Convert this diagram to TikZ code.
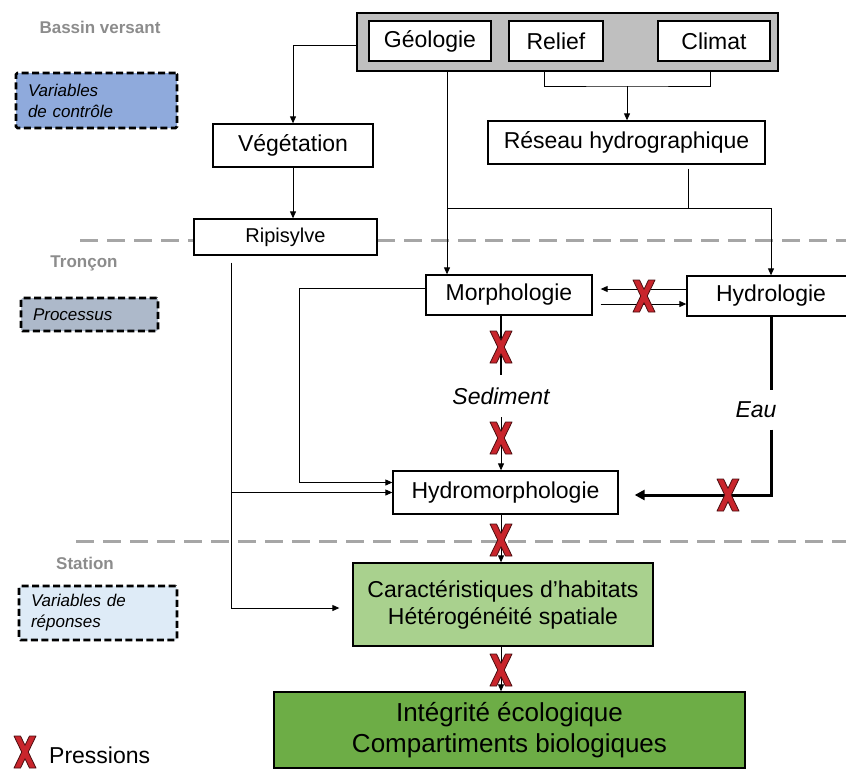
\documentclass[tikz,border=0pt]{standalone}
\usepackage{fontspec}
\setmainfont{Liberation Sans}
\usetikzlibrary{arrows.meta}

\definecolor{grisgroupe}{HTML}{BFBFBF}
\definecolor{grisechelle}{HTML}{8C8C8C}
\definecolor{grispointille}{HTML}{A6A6A6}
\definecolor{bleucontrole}{HTML}{8FAADC}
\definecolor{bleuprocessus}{HTML}{ADB9CA}
\definecolor{bleureponse}{HTML}{DEEBF7}
\definecolor{verthabitat}{HTML}{A9D18E}
\definecolor{vertintegrite}{HTML}{6DAD46}
\definecolor{rougepression}{HTML}{C9252C}
\definecolor{bordpression}{HTML}{4A0E10}

\tikzset{
  boite/.style={draw=black, line width=1.3pt, fill=white, inner sep=0pt, font=\fontsize{23}{27}\selectfont},
  legende/.style={draw=black, line width=2.8pt, dash pattern=on 7pt off 3.5pt, rounded corners=1.5pt, inner xsep=12pt, inner ysep=0pt, align=left, font=\fontsize{17}{21}\selectfont\itshape},
  echelle/.style={anchor=base, text=grisechelle, font=\fontsize{17}{20}\selectfont\bfseries},
  flux/.style={inner sep=0pt, font=\fontsize{23}{27}\selectfont\itshape},
  trait/.style={line width=0.9pt},
  lien/.style={trait, -{Triangle[length=7pt,width=6pt]}},
  fort/.style={line width=3pt},
  separation/.style={grispointille, line width=3pt, dash pattern=on 18pt off 9pt},
  pics/pression/.style={code={
    \filldraw[fill=rougepression, draw=bordpression, line width=0.8pt, line join=round]
      (-11,-16) -- (-4.5,-16) -- (0,-6.7) -- (4.5,-16) -- (11,-16) -- (3.25,0)
      -- (11,16) -- (4.5,16) -- (0,6.7) -- (-4.5,16) -- (-11,16) -- (-3.25,0) -- cycle;
  }}
}

\begin{document}
\begin{tikzpicture}[x=1pt, y=-1pt]
\useasboundingbox (0,0) rectangle (846,769);

% limites d'echelle
\draw[separation] (80,240) -- (846,240);
\draw[separation] (76,541) -- (846,541);

\node[echelle] (bassin) at (100,33) {Bassin versant};
\node[echelle] (troncon) at (84,267) {Tronçon};
\node[echelle] (station) at (85,569) {Station};

\node[legende, fill=bleucontrole, minimum height=55pt, text width=137pt] (controle) at (96.5,100.5) {Variables\\de contrôle};
\node[legende, fill=bleuprocessus, minimum height=33pt, text width=113pt] (processus) at (89.5,314.5) {Processus};
\node[legende, fill=bleureponse, minimum height=54pt, text width=134pt] (reponses) at (98,613) {Variables de\\réponses};

% bassin versant
\node[boite, fill=grisgroupe, line width=2pt, minimum width=421pt, minimum height=58pt] (groupe) at (567.5,42) {};
\node[boite, minimum width=122pt, minimum height=40pt] (geologie) at (430,41) {Géologie};
\node[boite, minimum width=94pt, minimum height=40pt] (relief) at (556,41) {Relief};
\node[boite, minimum width=112pt, minimum height=40pt] (climat) at (714,41) {Climat};
\node[boite, minimum width=160pt, minimum height=43pt] (vegetation) at (293,145.5) {Végétation};
\node[boite, minimum width=277pt, minimum height=43pt] (reseau) at (626.5,142.5) {Réseau hydrographique};
\node[boite, font=\fontsize{20}{24}\selectfont, minimum width=183pt, minimum height=36pt] (ripisylve) at (285.5,237) {Ripisylve};

% troncon
\node[boite, minimum width=166pt, minimum height=40pt] (morphologie) at (509,295) {Morphologie};
\node[boite, minimum width=168pt, minimum height=40pt] (hydrologie) at (771,296) {Hydrologie};
\node[boite, minimum width=225pt, minimum height=43pt] (hydromorphologie) at (505.5,492.5) {Hydromorphologie};
\node[flux, minimum height=42pt] (sediment) at (501,396) {Sediment};
\node[flux, minimum height=39pt] (eau) at (756,410) {Eau};

% station
\node[boite, fill=verthabitat, minimum width=300pt, minimum height=83pt, align=center] (habitats) at (503,604.5) {Caractéristiques d’habitats\\Hétérogénéité spatiale};
\node[boite, fill=vertintegrite, font=\fontsize{26}{31}\selectfont, minimum width=471pt, minimum height=76pt, align=center] (integrite) at (509.5,730) {Intégrité écologique\\Compartiments biologiques};

\node[anchor=west, inner sep=0pt, font=\fontsize{23}{27}\selectfont] (pressions) at (49,755) {Pressions};

% liens du bassin versant
\coordinate (piedrelief) at (544,71);
\coordinate (piedclimat) at (710,71);
\coordinate (jonction) at (627,86);
\coordinate (piedgeologie) at (447,71);
\coordinate (carrefour) at (447,208);
\coordinate (coinhydro) at (771,208);
\draw[lien] ([yshift=-3pt]groupe.west) -| (vegetation.north);
\draw[lien] (vegetation.south) -- (vegetation.south |- ripisylve.north);
\draw[trait] (piedrelief) |- (jonction) -| (piedclimat);
\draw[lien] (jonction) -- (jonction |- reseau.north);
\draw[lien] (piedgeologie) -- (piedgeologie |- morphologie.north);
\draw[lien] (carrefour) -- (coinhydro) -- (hydrologie.north);
\draw[trait, shorten <=4pt] ([xshift=61.5pt]reseau.south) -- ([xshift=61.5pt]reseau.south |- carrefour);

% liens du troncon
\draw[lien, shorten >=8pt] ([yshift=7pt]hydrologie.west) -- ([yshift=7pt]hydrologie.west -| morphologie.east);
\draw[lien, shorten <=8pt] ([yshift=-9pt]morphologie.east) -- ([yshift=-9pt]morphologie.east -| hydrologie.west);
\draw[lien] ([yshift=7pt]morphologie.west) -- ++(-126,0) |- ([yshift=10pt]hydromorphologie.west);
\draw[line width=1.8pt] (morphologie.south -| sediment) -- (sediment.north);
\draw[lien] (sediment.south) -- (sediment |- hydromorphologie.north);
\coordinate (coude) at (771,495);
\draw[fort] (hydrologie.south) -- (coude |- eau.north);
\draw[fort, -{Triangle[length=10pt,width=10pt]}, shorten >=16pt] (coude |- eau.south) -- (coude) -- (coude -| hydromorphologie.east);
\coordinate (coinripi) at (231,608);
\draw[lien, shorten <=7pt, shorten >=13pt] ([xshift=-54.5pt]ripisylve.south) -- (coinripi) -- (coinripi -| habitats.west);
\draw[lien] (coinripi |- hydromorphologie.west) -- (hydromorphologie.west);

% liens de la station
\draw[lien] (hydromorphologie.south -| sediment) -- (sediment |- habitats.north);
\draw[lien] (habitats.south -| sediment) -- (sediment |- integrite.north);

% pressions
\pic at (644,296) {pression};
\pic at (501,347) {pression};
\pic at (501,438) {pression};
\pic at (728,495) {pression};
\pic at (501,540) {pression};
\pic at (501,670) {pression};
\pic at (25,752) {pression};
\end{tikzpicture}
\end{document}
